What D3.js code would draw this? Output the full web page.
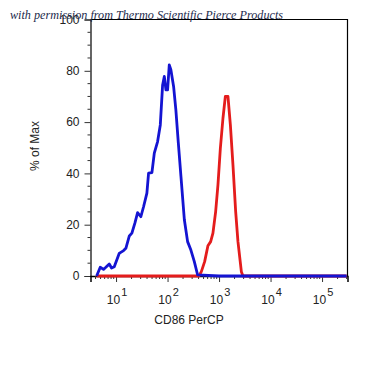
<!DOCTYPE html>
<html>
<head>
<meta charset="utf-8">
<script src="https://cdn.jsdelivr.net/npm/d3@7"></script>
<style>
    body { margin: 0; background: #ffffff; }
</style>
</head>
<body>
<script>
/* ========================== Data ========================= */
// CD86 PerCP values (log scale) and % of Max for each histogram
var blueX = [4.2, 4.93, 5.71, 6.34, 7.38, 8.18, 9.23, 11.5, 14.0, 15.5, 18.1, 20.3, 23.2, 26.2,
    30.3, 34.2, 39.7, 42.8, 49.7, 55.3, 64.1, 72.3, 80.2, 86.5, 92.9, 100.2, 108, 116, 131,
    145, 162, 182, 212, 245, 284, 331, 384, 1000, 10000, 100000, 300000];
var blueY = [0, 3.4, 2.6, 3.4, 4.7, 3.1, 3.6, 8.8, 9.9, 10.8, 15.6, 16.7, 20.6, 24.7,
    23.1, 27, 32.3, 40.1, 40.3, 47.9, 52.4, 58.9, 74.5, 77.8, 72.6, 72.6, 82.3, 80.4, 73.9,
    64.8, 51.8, 38.8, 21.9, 13.4, 10.1, 5.6, 0.4, 0, 0, 0, 0];
var redX = [4.2, 100, 407, 453, 525, 608, 687, 761, 859, 952, 1060, 1191, 1325, 1489, 1659,
    1862, 2102, 2329, 2711, 2917, 10000, 300000];
var redY = [0, 0, 0, 1.7, 5.6, 11.8, 13.4, 16.7, 25.1, 35.5, 49.8, 61.5, 70, 70, 58.9,
    43.3, 25.1, 13.4, 1.7, 0, 0, 0];
var yTicks = [0, 20, 40, 60, 80, 100];
var xDecades = [1, 2, 3, 4, 5];
var xLabel = "CD86 PerCP";
var yLabel = "% of Max";
var credit = "with permission from Thermo Scientific Pierce Products";

/* ========= Constants ========= */
var w = 391;
var h = 370;
var plotLeft = 90.5;
var plotRight = 347.5;
var plotTop = 19.5;
var plotBottom = 276;
var blueColor = "#1414d2";
var redColor = "#e41c1c";
var axisColor = "#000000";
var fontFamily = "'Liberation Sans', Arial, sans-serif";

/* ========= Create SVG ========= */
var svg = d3.select("body")
    .append("svg")
    .attr("width", w)
    .attr("height", h);

var xScale = d3.scaleLog()
    .domain([3.19, 312000])
    .range([plotLeft, plotRight]);
var yScale = d3.scaleLinear()
    .domain([0, 100])
    .range([plotBottom, plotTop]);

/* ==================== Frame and axes ======================== */
svg.append("path")
    .attr("d", "M" + plotLeft + "," + plotTop + "H" + plotRight + "V" + plotBottom)
    .attr("fill", "none")
    .attr("stroke", axisColor)
    .attr("stroke-width", 1.2);

// Y axis: majors every 20, minors every 5
var yAxis = d3.axisLeft(yScale)
    .tickValues(yTicks)
    .tickSize(6)
    .tickPadding(5)
    .tickFormat(d3.format("d"));
var gy = svg.append("g")
    .attr("transform", "translate(" + plotLeft + ",0)")
    .call(yAxis);
gy.select(".domain").attr("stroke", axisColor).attr("stroke-width", 1.2);
gy.selectAll("text")
    .attr("font-family", fontFamily)
    .attr("font-size", "12px")
    .attr("fill", "#222");
gy.selectAll(".tick line").attr("stroke", "#333");
svg.append("g")
    .selectAll("line")
    .data(d3.range(0, 101, 5).filter(function (d) { return d % 20 !== 0; }))
    .enter().append("line")
    .attr("x1", plotLeft - 3)
    .attr("x2", plotLeft)
    .attr("y1", function (d) { return yScale(d); })
    .attr("y2", function (d) { return yScale(d); })
    .attr("stroke", "#333");

// X axis: log ticks, major at decades
var minorX = [];
for (var k = 0; k <= 5; k++) {
    for (var m = 2; m <= 9; m++) {
        var v = m * Math.pow(10, k);
        if (v > xScale.domain()[0] && v < xScale.domain()[1]) minorX.push(v);
    }
}
var xAxis = d3.axisBottom(xScale)
    .tickValues(xDecades.map(function (d) { return Math.pow(10, d); }))
    .tickSize(6)
    .tickFormat("");
var gx = svg.append("g")
    .attr("transform", "translate(0," + plotBottom + ")")
    .call(xAxis);
gx.select(".domain").attr("stroke", axisColor).attr("stroke-width", 1.5);
gx.selectAll(".tick line").attr("stroke", "#333");
svg.append("g")
    .selectAll("line")
    .data(minorX)
    .enter().append("line")
    .attr("x1", function (d) { return xScale(d); })
    .attr("x2", function (d) { return xScale(d); })
    .attr("y1", plotBottom)
    .attr("y2", plotBottom + 3)
    .attr("stroke", "#333");

// decade labels as 10 with superscript exponent
var labels = svg.append("g")
    .selectAll("text")
    .data(xDecades)
    .enter().append("text")
    .attr("x", function (d) { return xScale(Math.pow(10, d)) + 1; })
    .attr("y", 304)
    .attr("text-anchor", "middle")
    .attr("font-family", fontFamily)
    .attr("font-size", "12px")
    .attr("fill", "#222");
labels.append("tspan").text("10");
labels.append("tspan")
    .attr("dx", 1)
    .attr("dy", -8)
    .attr("font-size", "11px")
    .text(function (d) { return d; });

/* =========== Histogram lines ============= */
function drawLine(xs, ys, color) {
    var pts = xs.map(function (x, i) { return [x, ys[i]]; });
    var line = d3.line()
        .x(function (d) { return xScale(d[0]); })
        .y(function (d) { return yScale(d[1]); });
    svg.append("path")
        .datum(pts)
        .attr("fill", "none")
        .attr("stroke", color)
        .attr("stroke-width", 2.8)
        .attr("stroke-linejoin", "round")
        .attr("d", line);
}
drawLine(redX, redY, redColor);
drawLine(blueX, blueY, blueColor);

/* =========== Axis titles and credit ============= */
svg.append("text")
    .attr("x", 189)
    .attr("y", 324)
    .attr("text-anchor", "middle")
    .attr("font-family", fontFamily)
    .attr("font-size", "12px")
    .attr("fill", "#222")
    .text(xLabel);
svg.append("text")
    .attr("transform", "translate(39,146) rotate(-90)")
    .attr("text-anchor", "middle")
    .attr("font-family", fontFamily)
    .attr("font-size", "12px")
    .attr("fill", "#222")
    .text(yLabel);
svg.append("text")
    .attr("x", 10)
    .attr("y", 19)
    .attr("font-family", "'Liberation Serif', serif")
    .attr("font-style", "italic")
    .attr("font-size", "13px")
    .attr("textLength", 273)
    .attr("lengthAdjust", "spacingAndGlyphs")
    .attr("fill", "#1c2a4c")
    .text(credit);
</script>
</body>
</html>
